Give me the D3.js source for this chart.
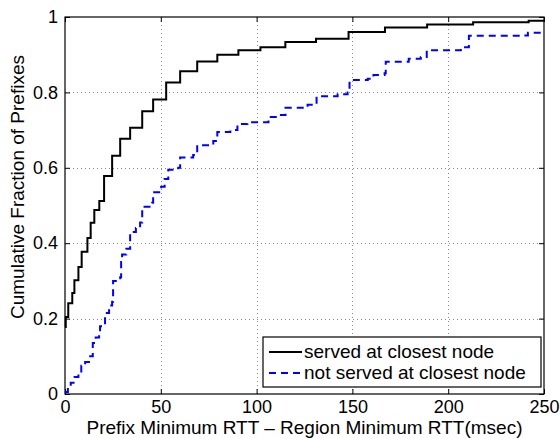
<!DOCTYPE html>
<html>
<head>
<meta charset="utf-8">
<script src="https://cdn.jsdelivr.net/npm/d3@7"></script>
<style>
  body { margin: 0; background: #fff; }
  svg text { font-family: "Liberation Sans", Arial, sans-serif; fill: #000; }
</style>
</head>
<body>
<div id="chart"></div>
<script>
// served at closest node (step CDF)
var servedX = [0, 0.4, 1.7, 3.8, 4.9, 7, 8.7, 11.7, 13.4, 15.3, 17.9, 20.4, 24.6, 28.8, 34, 40.3, 46, 52.8, 60.1, 69, 79.5, 90.5, 102, 115, 131, 148, 167, 189, 213, 242, 250];
var servedY = [0.178, 0.204, 0.241, 0.268, 0.302, 0.337, 0.377, 0.414, 0.454, 0.488, 0.512, 0.578, 0.632, 0.677, 0.706, 0.75, 0.781, 0.826, 0.856, 0.882, 0.9, 0.912, 0.92, 0.934, 0.942, 0.96, 0.972, 0.98, 0.986, 0.99, 0.99];

// not served at closest node
var notServedX = [0, 1.5, 3, 5, 7, 8.5, 10.5, 12.5, 14.5, 16, 17.8, 18.3, 20.9, 23, 24.6, 25.1, 28.8, 29.3, 29.8, 32, 34, 37, 39.2, 40.3, 45.5, 46, 50.2, 52, 53.9, 59.1, 60.1, 66.9, 69, 77.4, 79.5, 86.3, 90, 95.2, 106.2, 111.4, 115.1, 126.6, 131.3, 142.3, 147.5, 148.5, 158, 161, 166.8, 167.4, 179.4, 185.7, 188.8, 206.6, 210.8, 239, 241.6, 250];
var notServedY = [0.005, 0.02, 0.03, 0.045, 0.06, 0.075, 0.085, 0.1, 0.135, 0.15, 0.165, 0.18, 0.215, 0.235, 0.245, 0.3, 0.31, 0.35, 0.37, 0.385, 0.43, 0.44, 0.455, 0.497, 0.507, 0.535, 0.55, 0.57, 0.595, 0.6, 0.627, 0.634, 0.66, 0.671, 0.695, 0.7, 0.716, 0.721, 0.735, 0.74, 0.759, 0.767, 0.79, 0.795, 0.8, 0.833, 0.836, 0.846, 0.851, 0.881, 0.889, 0.894, 0.912, 0.92, 0.95, 0.951, 0.958, 0.958];

var xTicks = [0, 50, 100, 150, 200, 250];
var yTicks = [0, 0.2, 0.4, 0.6, 0.8, 1];
var seriesNames = ["served at closest node", "not served at closest node"];

var width = 560, height = 439;
var margin = { top: 17, right: 16, bottom: 45, left: 65 };
var plotW = width - margin.left - margin.right;
var plotH = height - margin.top - margin.bottom;

var svg = d3.select("#chart").append("svg")
    .attr("width", width).attr("height", height);

var xScale = d3.scaleLinear().domain([0, 250]).range([margin.left, margin.left + plotW]);
var yScale = d3.scaleLinear().domain([0, 1]).range([margin.top + plotH, margin.top]);

// grid
var grid = svg.append("g").attr("stroke", "#8a8a8a").attr("stroke-width", 1).attr("stroke-dasharray", "1,3");
grid.selectAll(".gx").data(xTicks.slice(1, -1)).enter().append("line")
    .attr("x1", function(d) { return Math.round(xScale(d)) + 0.5; })
    .attr("x2", function(d) { return Math.round(xScale(d)) + 0.5; })
    .attr("y1", margin.top).attr("y2", margin.top + plotH);
grid.selectAll(".gy").data(yTicks.slice(1, -1)).enter().append("line")
    .attr("y1", function(d) { return Math.round(yScale(d)) + 0.5; })
    .attr("y2", function(d) { return Math.round(yScale(d)) + 0.5; })
    .attr("x1", margin.left).attr("x2", margin.left + plotW);

// axes (inner ticks, box on)
var tick = 5;
svg.append("g").attr("transform", "translate(0," + (margin.top + plotH) + ")")
    .call(d3.axisBottom(xScale).tickValues(xTicks).tickSizeInner(-tick).tickSizeOuter(0).tickPadding(6))
    .call(function(g) { g.select(".domain").remove(); g.selectAll("text").attr("font-size", "18px"); });
svg.append("g").attr("transform", "translate(0," + margin.top + ")")
    .call(d3.axisTop(xScale).tickValues(xTicks).tickSizeInner(-tick).tickSizeOuter(0).tickFormat(""))
    .call(function(g) { g.select(".domain").remove(); });
svg.append("g").attr("transform", "translate(" + margin.left + ",0)")
    .call(d3.axisLeft(yScale).tickValues(yTicks).tickSizeInner(-tick).tickSizeOuter(0).tickPadding(7).tickFormat(d3.format("~g")))
    .call(function(g) { g.select(".domain").remove(); g.selectAll("text").attr("font-size", "18px"); });
svg.append("g").attr("transform", "translate(" + (margin.left + plotW) + ",0)")
    .call(d3.axisRight(yScale).tickValues(yTicks).tickSizeInner(-tick).tickSizeOuter(0).tickFormat(""))
    .call(function(g) { g.select(".domain").remove(); });

svg.append("rect")
    .attr("x", margin.left).attr("y", margin.top)
    .attr("width", plotW).attr("height", plotH)
    .attr("fill", "none").attr("stroke", "#000").attr("stroke-width", 1.2);

// lines
var line = d3.line()
    .x(function(d) { return xScale(d[0]); })
    .y(function(d) { return yScale(d[1]); })
    .curve(d3.curveStepAfter);

svg.append("path")
    .datum(d3.zip(notServedX, notServedY))
    .attr("fill", "none").attr("stroke", "#0000ff").attr("stroke-width", 2)
    .attr("stroke-dasharray", "7,5")
    .attr("d", line);

svg.append("path")
    .datum(d3.zip(servedX, servedY))
    .attr("fill", "none").attr("stroke", "#000").attr("stroke-width", 2)
    .attr("d", line);

// axis labels
svg.append("text")
    .attr("x", xScale(125)).attr("y", 434)
    .attr("text-anchor", "middle").attr("font-size", "19px")
    .text("Prefix Minimum RTT \u2013 Region Minimum RTT(msec)");
svg.append("text")
    .attr("transform", "translate(24," + 187 + ") rotate(-90)")
    .attr("text-anchor", "middle").attr("font-size", "19px")
    .text("Cumulative Fraction of Prefixes");

// legend
var legend = svg.append("g").attr("transform", "translate(263,337)");
legend.append("rect")
    .attr("width", 278).attr("height", 50)
    .attr("fill", "#fff").attr("stroke", "#000").attr("stroke-width", 1.2);
var styles = [{ c: "#000", dash: null }, { c: "#0000ff", dash: "7,5" }];
seriesNames.forEach(function(name, i) {
    var y = 15 + i * 21;
    legend.append("line")
        .attr("x1", 6).attr("x2", 39).attr("y1", y).attr("y2", y)
        .attr("stroke", styles[i].c).attr("stroke-width", 2)
        .attr("stroke-dasharray", styles[i].dash);
    legend.append("text")
        .attr("x", 41).attr("y", y + 6)
        .attr("font-size", "19px")
        .text(name);
});
</script>
</body>
</html>
